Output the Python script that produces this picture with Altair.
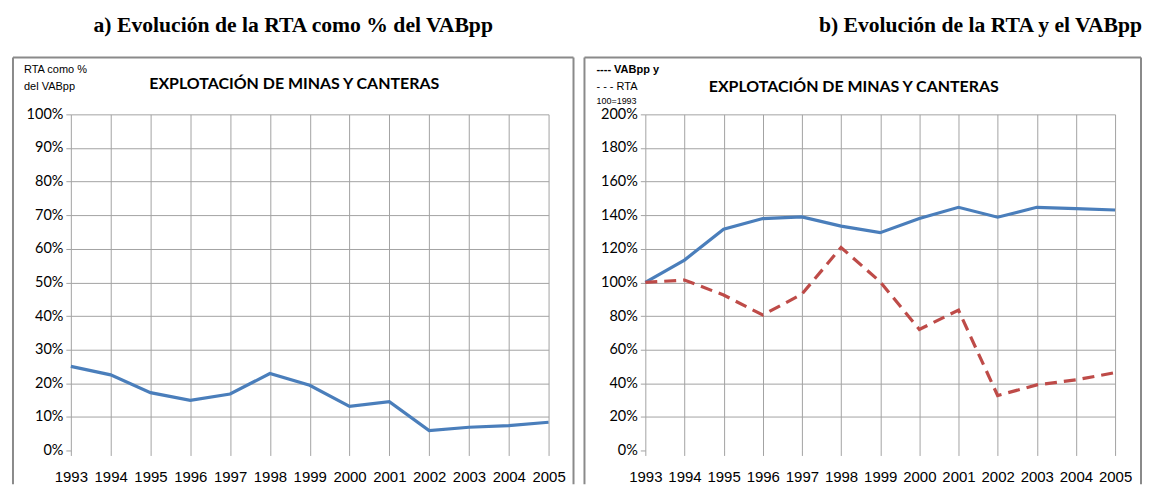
import altair as alt
import pandas as pd

# ---------------- data ----------------
years = list(range(1993, 2006))
rta_pct = [25.0, 22.5, 17.2, 14.9, 16.8, 22.9, 19.4, 13.1, 14.5, 5.9, 6.9, 7.4, 8.4]
vabpp_idx = [100, 113.3, 131.6, 138.0, 139.0, 133.5, 129.6, 138.0, 144.7, 138.8, 144.7, 143.9, 143.1]
rta_idx = [100, 101.4, 92.5, 80.6, 93.0, 120.8, 100.4, 72.0, 83.5, 32.7, 39.0, 42.0, 46.3]

ticks_a = [i / 10 for i in range(0, 11)]
ticks_b = [i / 5 for i in range(0, 11)]

title_a = "a) Evolución de la RTA como % del VABpp"
title_b = "b) Evolución de la RTA y el VABpp"
inner_title = "EXPLOTACIÓN DE MINAS Y CANTERAS"
corner_a = ["RTA como %", "del VABpp"]
corner_b = ["---- VABpp y", "- - - RTA", "100=1993"]

GRID = "#a3a3a3"
BORDER = "#8a8a8a"
BLUE = "#4A7EBB"
RED = "#BE4B48"
H = 337

df_a = pd.DataFrame({"year": years, "v": [x / 100 for x in rta_pct]})
df_vab = pd.DataFrame({"year": years, "v": [x / 100 for x in vabpp_idx]})
df_rta = pd.DataFrame({"year": years, "v": [x / 100 for x in rta_idx]})
one = pd.DataFrame({"k": [0]})


def x_enc():
    return alt.X(
        "year:Q",
        scale=alt.Scale(domain=[1993, 2005], nice=False, zero=False),
        axis=alt.Axis(
            values=years, format="d", title=None, grid=True, gridColor=GRID,
            domain=False, ticks=True, tickColor=GRID, tickSize=5,
            labelFont="Liberation Sans", labelFontSize=15, labelColor="#000",
            labelPadding=14, labelFlush=False, labelOverlap=False,
        ),
    )


def y_enc(dom, ticks):
    return alt.Y(
        "v:Q",
        scale=alt.Scale(domain=dom, nice=False),
        axis=alt.Axis(
            values=ticks, format=".0%", title=None, grid=True, gridColor=GRID,
            gridOpacity={"condition": {"test": "datum.value === 0", "value": 0}, "value": 1},
            domain=False, ticks=True, tickColor=GRID, tickSize=5,
            labelFont="Lato", labelFontSize=14.5, labelColor="#000", labelPadding=3,
        ),
    )


def border(left, right):
    base = alt.Chart(one).mark_rule(color=BORDER, strokeWidth=2)
    l = base.encode(x=alt.value(left), y=alt.value(-57), y2=alt.value(H + 34))
    r = base.encode(x=alt.value(right), y=alt.value(-57), y2=alt.value(H + 34))
    t = base.encode(x=alt.value(left), x2=alt.value(right), y=alt.value(-57))
    return [l, r, t]


def txt(s, x, y, size, font="Liberation Sans", weight="normal", align="left"):
    return alt.Chart(one).mark_text(
        font=font, fontSize=size, fontWeight=weight, align=align, baseline="middle", color="#000"
    ).encode(x=alt.value(x), y=alt.value(y), text=alt.value(s))


# ---------------- panel a ----------------
W_A = 479
line_a = alt.Chart(df_a).mark_line(color=BLUE, strokeWidth=3.2).encode(
    x=x_enc(), y=y_enc([0, 1], ticks_a)
)
panel_a = alt.layer(
    line_a,
    *border(-58, W_A + 25),
    txt(inner_title, 224, -30, 16, font="Lato", weight="bold", align="center"),
    txt(corner_a[0], -47, -44, 11),
    txt(corner_a[1], -47, -27, 11),
).properties(
    width=W_A, height=H,
    title=alt.TitleParams(
        title_a, font="Liberation Serif", fontSize=21.7, fontWeight="bold", color="#000",
        anchor="middle", frame="bounds", offset=3, baseline="alphabetic",
    ),
)

# ---------------- panel b ----------------
W_B = 471
line_vab = alt.Chart(df_vab).mark_line(color=BLUE, strokeWidth=3.2).encode(
    x=x_enc(), y=y_enc([0, 2], ticks_b)
)
line_rta = alt.Chart(df_rta).mark_line(color=RED, strokeWidth=3.2, strokeDash=[12, 7]).encode(
    x=x_enc(), y=y_enc([0, 2], ticks_b)
)
panel_b = alt.layer(
    line_vab,
    line_rta,
    *border(-61, W_B + 26),
    txt(inner_title, 209, -27, 16, font="Lato", weight="bold", align="center"),
    txt(corner_b[0], -49, -44, 11, weight="bold"),
    txt(corner_b[1], -49, -27, 11),
    txt(corner_b[2], -49, -13, 9),
).properties(
    width=W_B, height=H,
    title=alt.TitleParams(
        title_b, font="Liberation Serif", fontSize=21.7, fontWeight="bold", color="#000",
        anchor="end", frame="bounds", offset=3, baseline="alphabetic",
    ),
)

chart = alt.hconcat(panel_a, panel_b, spacing=9).properties(
    padding={"left": 4, "top": 6, "right": 0, "bottom": 0}
).configure_view(stroke=None)

chart.save("out.html", embed_options={"renderer": "svg", "actions": False})
